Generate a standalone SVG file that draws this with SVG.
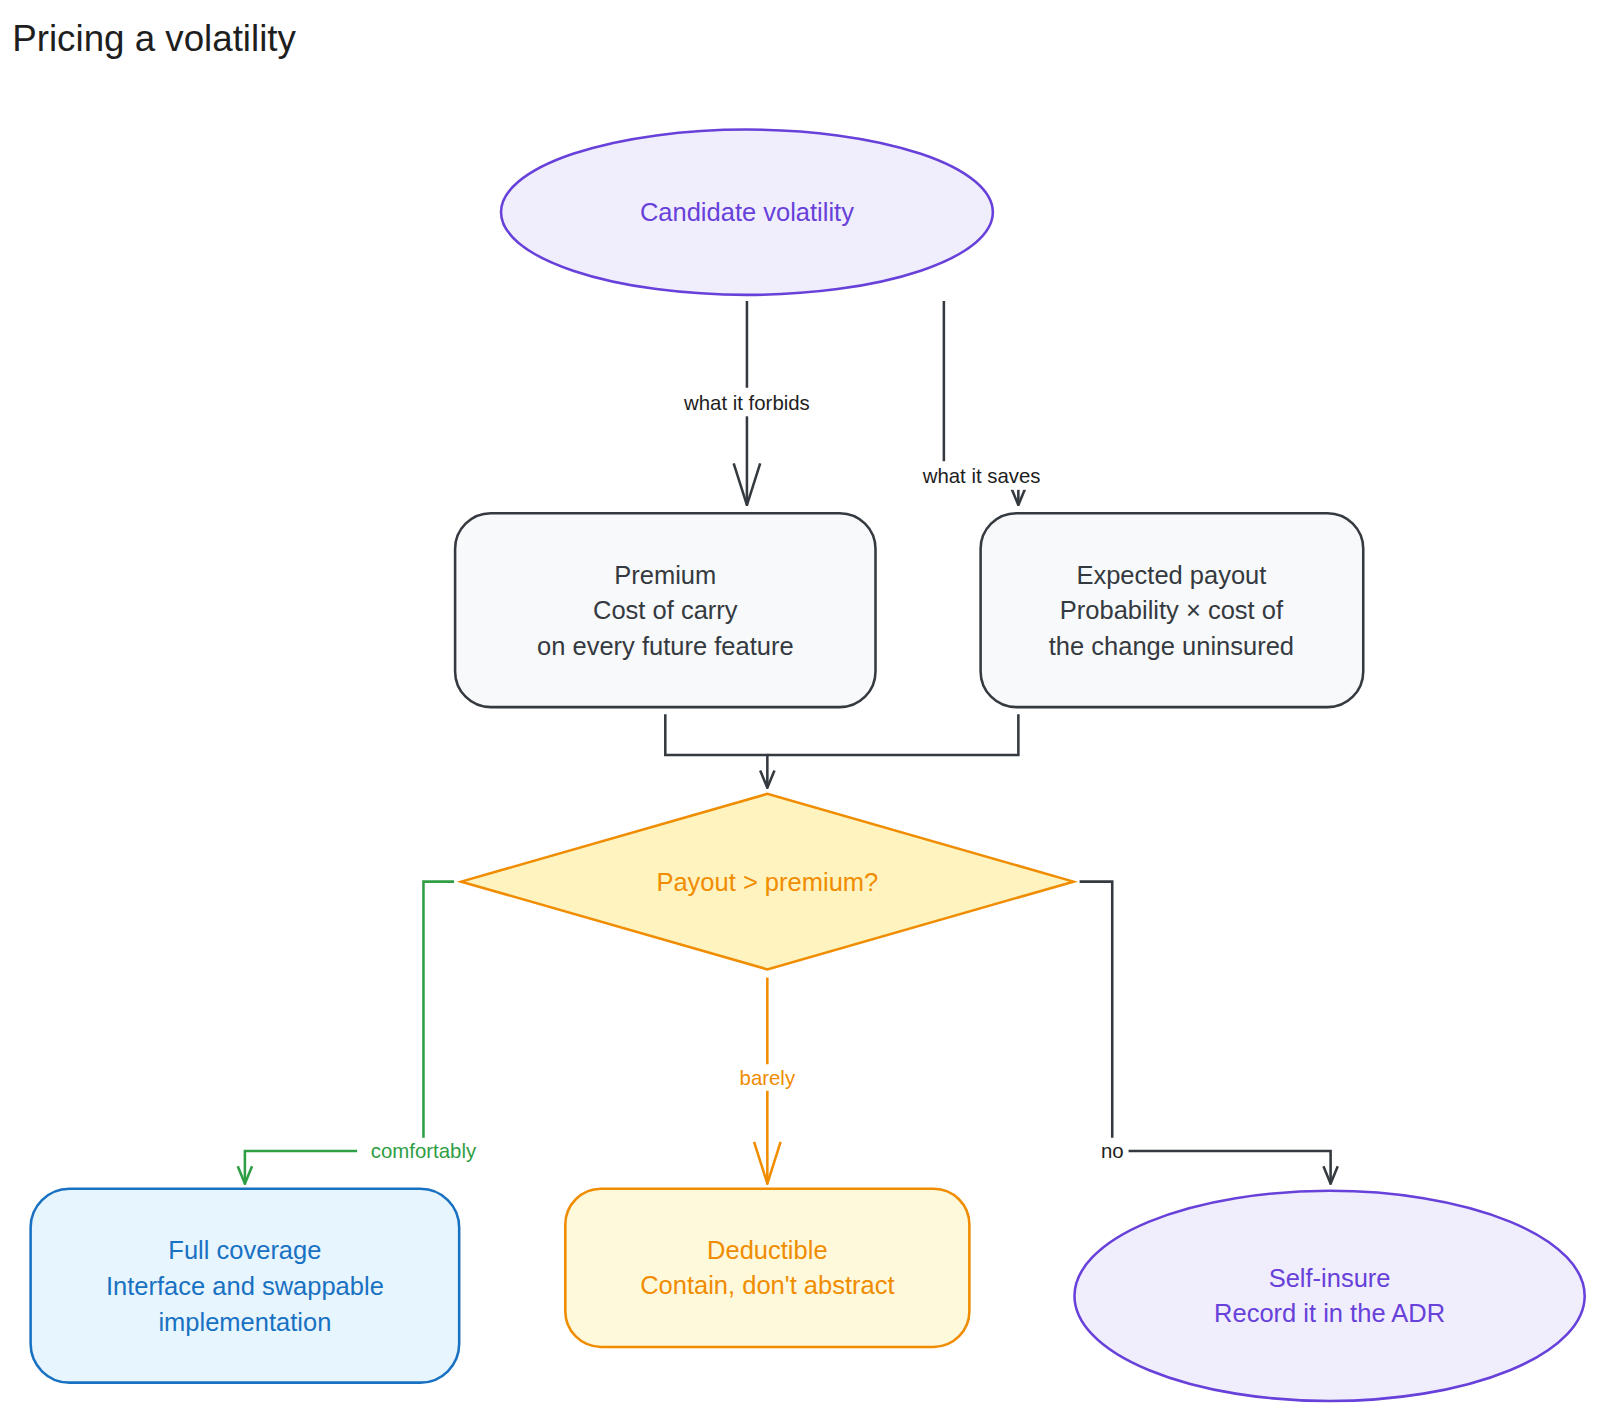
<svg xmlns="http://www.w3.org/2000/svg" width="1600" height="1417" viewBox="0 0 1600 1417">
<style>
text{font-family:"Liberation Sans","DejaVu Sans",sans-serif;text-anchor:middle}
.n{font-size:25px}
.l{font-size:20px}
.c{fill:none;stroke-width:2.5}
</style>
<defs>
<marker id="ad" viewBox="0 0 20 20" refX="19" refY="10" markerWidth="20" markerHeight="20" markerUnits="userSpaceOnUse" orient="auto"><path d="M2 3 L19 10 L2 17" fill="none" stroke="context-stroke" stroke-width="2.5"/></marker>
<marker id="big" viewBox="0 0 44 32" refX="43" refY="16" markerWidth="44" markerHeight="32" markerUnits="userSpaceOnUse" orient="auto"><path d="M2 3 L43 16 L2 29" fill="none" stroke="context-stroke" stroke-width="2.5"/></marker>
</defs>
<rect width="1600" height="1417" fill="#fff"/>
<g transform="scale(1.0204)">
<text x="12" y="50" style="font-size:36px;text-anchor:start" fill="#1e1e1e">Pricing a volatility</text>
<g id="edges">
<path class="c" stroke="#343a40" d="M732 295 V495" marker-end="url(#big)"/>
<path class="c" stroke="#343a40" d="M925 295 V455 H998 V495" marker-end="url(#ad)"/>
<path class="c" stroke="#343a40" d="M652 700 V740 H752 V772" marker-end="url(#ad)"/>
<path class="c" stroke="#343a40" d="M998 700 V740 H752"/>
<path class="c" stroke="#2f9e44" d="M445 864 H415 V1128 H240 V1160" marker-end="url(#ad)"/>
<path class="c" stroke="#f08c00" d="M752 958 V1160" marker-end="url(#big)"/>
<path class="c" stroke="#343a40" d="M1058 864 H1090 V1128 H1304 V1160" marker-end="url(#ad)"/>
<rect x="645" y="380" width="174" height="28" fill="#fff"/>
<text x="732" y="402" class="l" fill="#1e1e1e">what it forbids</text>
<rect x="880" y="452" width="165" height="28" fill="#fff"/>
<text x="962" y="473" class="l" fill="#1e1e1e">what it saves</text>
<rect x="350" y="1115" width="130" height="26" fill="#fff"/>
<text x="415" y="1135" class="l" fill="#2f9e44">comfortably</text>
<rect x="715" y="1043" width="74" height="26" fill="#fff"/>
<text x="752" y="1063" class="l" fill="#f08c00">barely</text>
<rect x="1074" y="1115" width="32" height="26" fill="#fff"/>
<text x="1090" y="1135" class="l" fill="#1e1e1e">no</text>
</g>
<g id="candidate">
<ellipse cx="732" cy="208" rx="241" ry="81" fill="#f0eefd" stroke="#6741d9" stroke-width="2.5"/>
<text x="732" y="217" class="n" fill="#6741d9">Candidate volatility</text>
</g>
<g id="premium">
<rect x="446" y="503" width="412" height="190" rx="35" fill="#f8f9fa" stroke="#343a40" stroke-width="2.5"/>
<text class="n" fill="#343a40"><tspan x="652" y="572">Premium</tspan><tspan x="652" y="607">Cost of carry</tspan><tspan x="652" y="642">on every future feature</tspan></text>
</g>
<g id="payout">
<rect x="961" y="503" width="375" height="190" rx="35" fill="#f8f9fa" stroke="#343a40" stroke-width="2.5"/>
<text class="n" fill="#343a40"><tspan x="1148" y="572">Expected payout</tspan><tspan x="1148" y="607">Probability × cost of</tspan><tspan x="1148" y="642">the change uninsured</tspan></text>
</g>
<g id="decision">
<polygon points="452,864 752,778 1052,864 752,950" fill="#fff3bf" stroke="#f08c00" stroke-width="2.5"/>
<text x="752" y="873" class="n" fill="#f08c00">Payout &gt; premium?</text>
</g>
<g id="full">
<rect x="30" y="1165" width="420" height="190" rx="38" fill="#e7f5ff" stroke="#1971c2" stroke-width="2.5"/>
<text class="n" fill="#1971c2"><tspan x="240" y="1234">Full coverage</tspan><tspan x="240" y="1269">Interface and swappable</tspan><tspan x="240" y="1304">implementation</tspan></text>
</g>
<g id="deductible">
<rect x="554" y="1165" width="396" height="155" rx="35" fill="#fff9db" stroke="#f08c00" stroke-width="2.5"/>
<text class="n" fill="#f08c00"><tspan x="752" y="1234">Deductible</tspan><tspan x="752" y="1268">Contain, don't abstract</tspan></text>
</g>
<g id="selfinsure">
<ellipse cx="1303" cy="1270" rx="250" ry="103" fill="#f0eefd" stroke="#6741d9" stroke-width="2.5"/>
<text class="n" fill="#6741d9"><tspan x="1303" y="1261">Self-insure</tspan><tspan x="1303" y="1296">Record it in the ADR</tspan></text>
</g>
</g>
</svg>
